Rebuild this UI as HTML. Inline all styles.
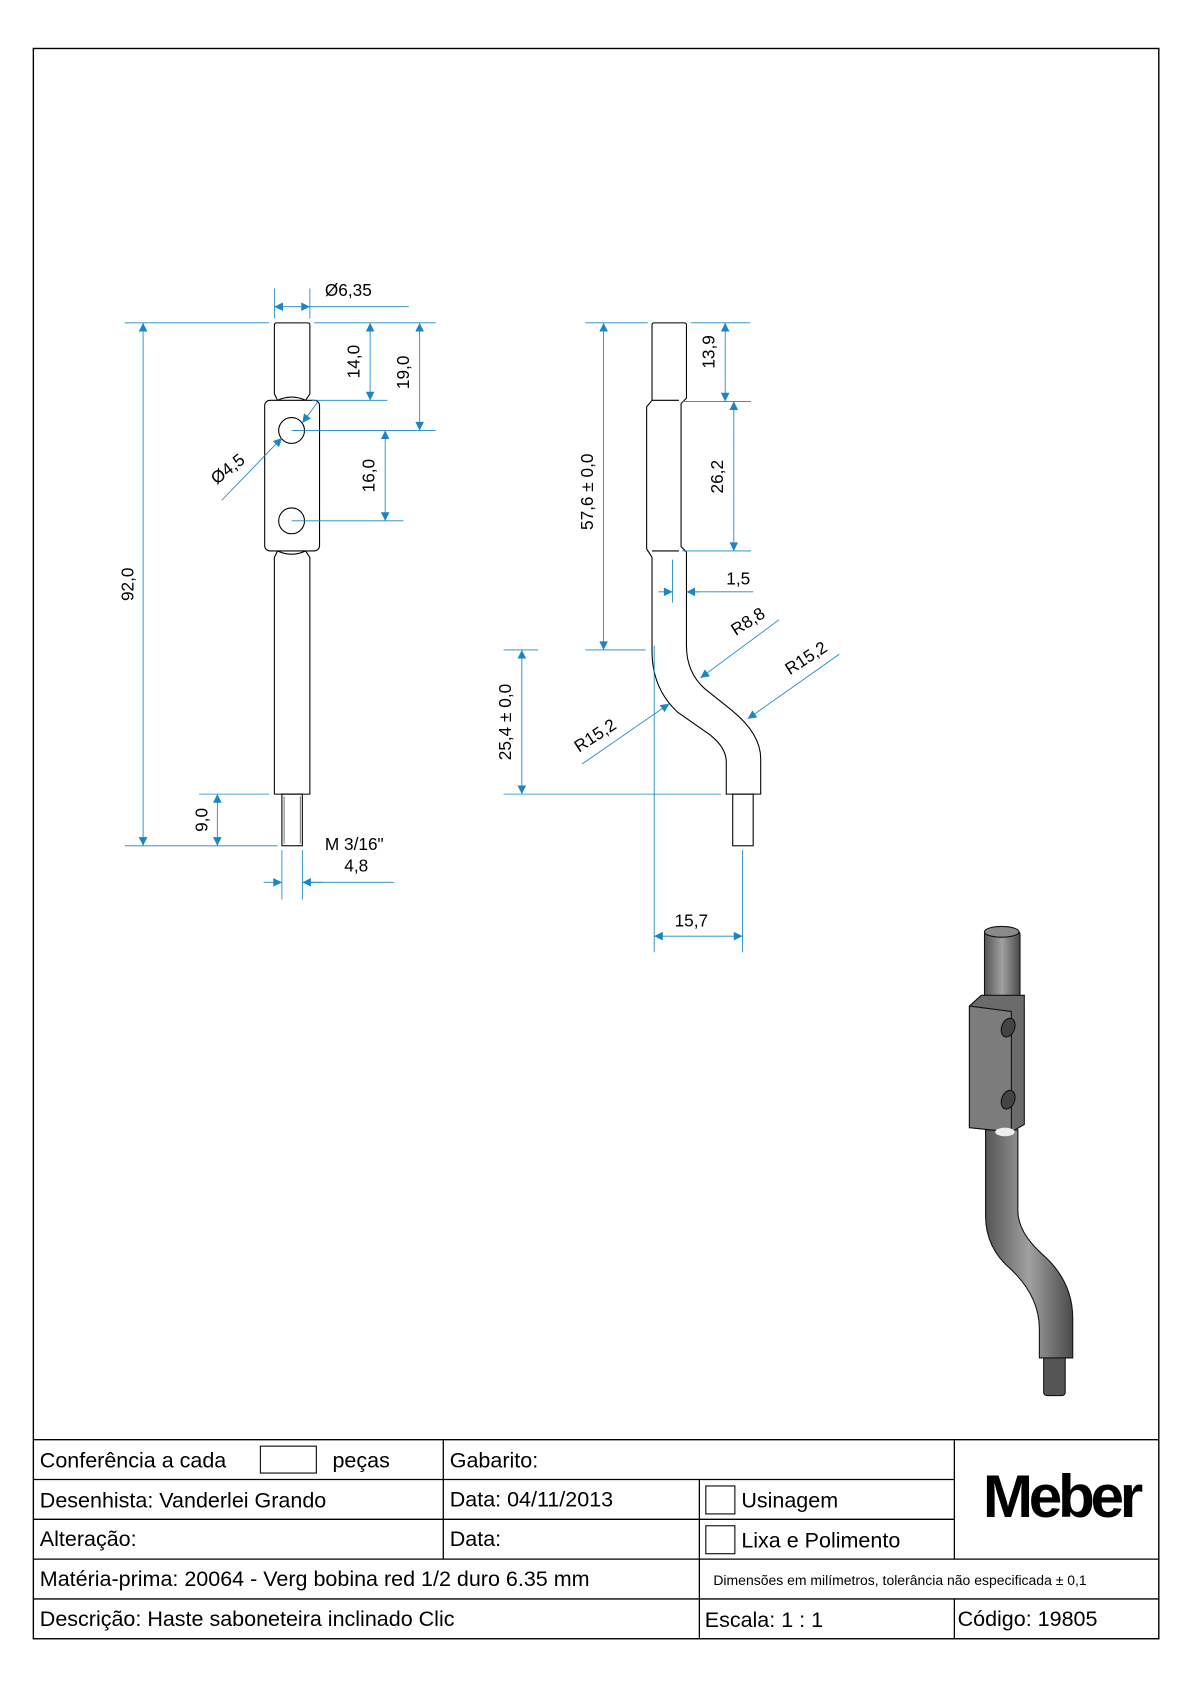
<!DOCTYPE html>
<html><head><meta charset="utf-8"><style>
html,body{margin:0;padding:0;background:#fff}
svg{display:block}
text{font-family:"Liberation Sans",Arial,sans-serif}
</style></head><body>
<svg width="1190" height="1684" viewBox="0 0 1106 1565" xmlns="http://www.w3.org/2000/svg">
<defs>
<marker id="a" viewBox="0 0 10 10" refX="10" refY="5" markerWidth="11" markerHeight="8" orient="auto-start-reverse" markerUnits="userSpaceOnUse"><path d="M0,0 L10,5 L0,10 z" fill="#1a86c4"/></marker>
<linearGradient id="g" x1="0" x2="1"><stop offset="0" stop-color="#555"/><stop offset="0.5" stop-color="#a0a0a0"/><stop offset="1" stop-color="#4a4a4a"/></linearGradient>
</defs>
<rect x="31" y="45" width="1046" height="1478" fill="none" stroke="#000" stroke-width="1.3"/>

<!-- LEFT VIEW -->
<g fill="none" stroke="#000" stroke-width="1">
<path d="M255,302 Q255,300 257,300 L286,300 Q288,300 288,302 L288,366 L284,372 M255,302 L255,366 L258,372"/>
<rect x="246" y="372" width="51" height="140" rx="5"/>
<path d="M258,372 Q271,366 284,372 M258,512 Q271,518 284,512"/>
<path d="M258,512 L255,518 L255,738 L288,738 L288,518 L284,512"/>
<circle cx="271" cy="400" r="12"/><circle cx="271" cy="484" r="12"/>
<rect x="262" y="738" width="19" height="48"/>
<line x1="264" y1="740" x2="264" y2="784" stroke-width="0.5"/><line x1="279" y1="740" x2="279" y2="784" stroke-width="0.5"/>
</g>
<g stroke="#1a86c4" stroke-width="0.8" fill="none">
<line x1="255" y1="268" x2="255" y2="296"/><line x1="288" y1="268" x2="288" y2="296"/>
<line x1="255" y1="285" x2="288" y2="285" marker-start="url(#a)" marker-end="url(#a)"/><line x1="288" y1="285" x2="380" y2="285"/>
<line x1="116" y1="300" x2="250" y2="300"/><line x1="116" y1="786" x2="258" y2="786"/>
<line x1="133" y1="300" x2="133" y2="786" marker-start="url(#a)" marker-end="url(#a)"/>
<line x1="292" y1="300" x2="405" y2="300"/><line x1="290" y1="372" x2="360" y2="372"/>
<line x1="344" y1="300" x2="344" y2="372" marker-start="url(#a)" marker-end="url(#a)"/>
<line x1="271" y1="400" x2="405" y2="400"/>
<line x1="390" y1="300" x2="390" y2="400" marker-start="url(#a)" marker-end="url(#a)"/>
<line x1="271" y1="484" x2="375" y2="484"/>
<line x1="358" y1="400" x2="358" y2="484" marker-start="url(#a)" marker-end="url(#a)"/>
<line x1="206" y1="465" x2="262" y2="407" marker-end="url(#a)"/><line x1="295" y1="374" x2="281" y2="393" marker-end="url(#a)"/>
<line x1="185" y1="738" x2="250" y2="738"/>
<line x1="202" y1="738" x2="202" y2="786" marker-start="url(#a)" marker-end="url(#a)"/>
<line x1="262" y1="790" x2="262" y2="836"/><line x1="281" y1="790" x2="281" y2="836"/>
<line x1="245" y1="820" x2="262" y2="820" marker-end="url(#a)"/><line x1="300" y1="820" x2="281" y2="820" marker-end="url(#a)"/><line x1="281" y1="820" x2="366" y2="820"/>
</g>
<g font-size="16" fill="#000">
<text x="302" y="275">Ø6,35</text>
<text transform="translate(124,543) rotate(-90)" text-anchor="middle">92,0</text>
<text transform="translate(334,336) rotate(-90)" text-anchor="middle">14,0</text>
<text transform="translate(380,346) rotate(-90)" text-anchor="middle">19,0</text>
<text transform="translate(348,442) rotate(-90)" text-anchor="middle">16,0</text>
<text transform="translate(215,440) rotate(-38)" text-anchor="middle">Ø4,5</text>
<text transform="translate(193,762) rotate(-90)" text-anchor="middle">9,0</text>
<text x="302" y="790">M 3/16"</text><text x="320" y="810">4,8</text>
</g>

<!-- RIGHT VIEW -->
<g fill="none" stroke="#000" stroke-width="1">
<path d="M606,302 Q606,300 608,300 L636,300 Q638,300 638,302 L638,370 L633,375 L633,508 L638,513 L638,600 Q638,625 655,640 L680,660 Q707,682 707,705 L707,738 L675,738 L675,708 Q675,695 660,683 L630,662 Q606,640 606,605 L606,518 L601,510 L601,378 L606,372 Z"/>
<path d="M606,372 L631,372 M606,512 L631,512"/>
<rect x="681" y="738" width="19" height="48"/>
</g>
<g stroke="#1a86c4" stroke-width="0.8" fill="none">
<line x1="544" y1="300" x2="602" y2="300"/><line x1="642" y1="300" x2="697" y2="300"/>
<line x1="561" y1="300" x2="561" y2="604" marker-start="url(#a)" marker-end="url(#a)"/>
<line x1="544" y1="604" x2="600" y2="604"/>
<line x1="674" y1="300" x2="674" y2="373" marker-start="url(#a)" marker-end="url(#a)"/>
<line x1="634" y1="373" x2="698" y2="373"/><line x1="634" y1="512" x2="698" y2="512"/>
<line x1="682" y1="373" x2="682" y2="512" marker-start="url(#a)" marker-end="url(#a)"/>
<line x1="625" y1="520" x2="625" y2="560"/>
<line x1="612" y1="550" x2="625" y2="550" marker-end="url(#a)"/><line x1="650" y1="550" x2="638" y2="550" marker-end="url(#a)"/><line x1="638" y1="550" x2="700" y2="550"/>
<line x1="468" y1="604" x2="500" y2="604"/><line x1="468" y1="738" x2="670" y2="738"/>
<line x1="485" y1="604" x2="485" y2="738" marker-start="url(#a)" marker-end="url(#a)"/>
<line x1="608" y1="600" x2="608" y2="885"/><line x1="690" y1="790" x2="690" y2="885"/>
<line x1="608" y1="870" x2="690" y2="870" marker-start="url(#a)" marker-end="url(#a)"/>
<line x1="724" y1="576" x2="651" y2="630" marker-end="url(#a)"/>
<line x1="780" y1="608" x2="695" y2="668" marker-end="url(#a)"/>
<line x1="541" y1="710" x2="622" y2="654" marker-end="url(#a)"/>
</g>
<g font-size="16" fill="#000">
<text transform="translate(551,457) rotate(-90)" text-anchor="middle">57,6 ± 0,0</text>
<text transform="translate(664,327) rotate(-90)" text-anchor="middle">13,9</text>
<text transform="translate(672,443) rotate(-90)" text-anchor="middle">26,2</text>
<text x="675" y="543">1,5</text>
<text transform="translate(698,582) rotate(-33)" text-anchor="middle">R8,8</text>
<text transform="translate(752,616) rotate(-33)" text-anchor="middle">R15,2</text>
<text transform="translate(556,688) rotate(-33)" text-anchor="middle">R15,2</text>
<text transform="translate(475,671) rotate(-90)" text-anchor="middle">25,4 ± 0,0</text>
<text x="627" y="861">15,7</text>
</g>

<!-- 3D -->
<g stroke="#111" stroke-width="1">
<rect x="970" y="1255" width="20" height="42" rx="3" fill="#555"/>
<path d="M916,1050 L916,1130 Q916,1160 940,1180 Q966,1205 966,1235 L966,1262 L997,1262 L997,1225 Q997,1190 968,1165 Q946,1145 946,1125 L946,1050 Z" fill="url(#g)"/>
<rect x="915" y="865" width="33" height="65" rx="3" fill="url(#g)"/>
<ellipse cx="931" cy="866" rx="16" ry="5" fill="#8a8a8a"/>
<path d="M901,935 L912,925 L952,925 L952,1045 L940,1052 L901,1048 Z" fill="#6b6b6b"/>
<path d="M901,935 L940,940 L940,1052 L901,1048 Z" fill="#7c7c7c"/>
<ellipse cx="937" cy="955" rx="6" ry="9" fill="#444" transform="rotate(20 937 955)"/>
<ellipse cx="937" cy="1022" rx="6" ry="9" fill="#444" transform="rotate(20 937 1022)"/>
<ellipse cx="934" cy="1052" rx="9" ry="4" fill="#eee" stroke="none"/>
</g>

<!-- TITLE BLOCK -->
<g stroke="#000" stroke-width="1.2" fill="none">
<line x1="31" y1="1338" x2="1077" y2="1338"/>
<line x1="31" y1="1375" x2="887" y2="1375"/>
<line x1="31" y1="1412" x2="887" y2="1412"/>
<line x1="31" y1="1449" x2="1077" y2="1449"/>
<line x1="31" y1="1486" x2="1077" y2="1486"/>
<line x1="412" y1="1338" x2="412" y2="1449"/>
<line x1="650" y1="1375" x2="650" y2="1523"/>
<line x1="887" y1="1338" x2="887" y2="1449"/>
<line x1="887" y1="1486" x2="887" y2="1523"/>
<rect x="242" y="1344" width="52" height="25" stroke-width="1"/>
<rect x="656" y="1381" width="27" height="26" stroke-width="1"/>
<rect x="656" y="1418" width="27" height="26" stroke-width="1"/>
</g>
<g font-size="20" fill="#000">
<text x="37" y="1364">Conferência a cada</text><text x="309" y="1364">peças</text>
<text x="418" y="1364">Gabarito:</text>
<text x="37" y="1401">Desenhista: Vanderlei Grando</text>
<text x="418" y="1400">Data: 04/11/2013</text>
<text x="689" y="1401">Usinagem</text>
<text x="37" y="1437">Alteração:</text>
<text x="418" y="1437">Data:</text>
<text x="689" y="1438">Lixa e Polimento</text>
<text x="37" y="1474">Matéria-prima: 20064 - Verg bobina red 1/2 duro 6.35 mm</text>
<text x="37" y="1511">Descrição: Haste saboneteira inclinado Clic</text>
<text x="655" y="1512">Escala: 1 : 1</text>
<text x="890" y="1511">Código: 19805</text>
<text x="663" y="1473" font-size="13">Dimensões em milímetros, tolerância não especificada ± 0,1</text>
<text x="986" y="1410" font-size="56" font-weight="bold" text-anchor="middle" letter-spacing="-4">Meber</text>
</g>
</svg>
</body></html>
